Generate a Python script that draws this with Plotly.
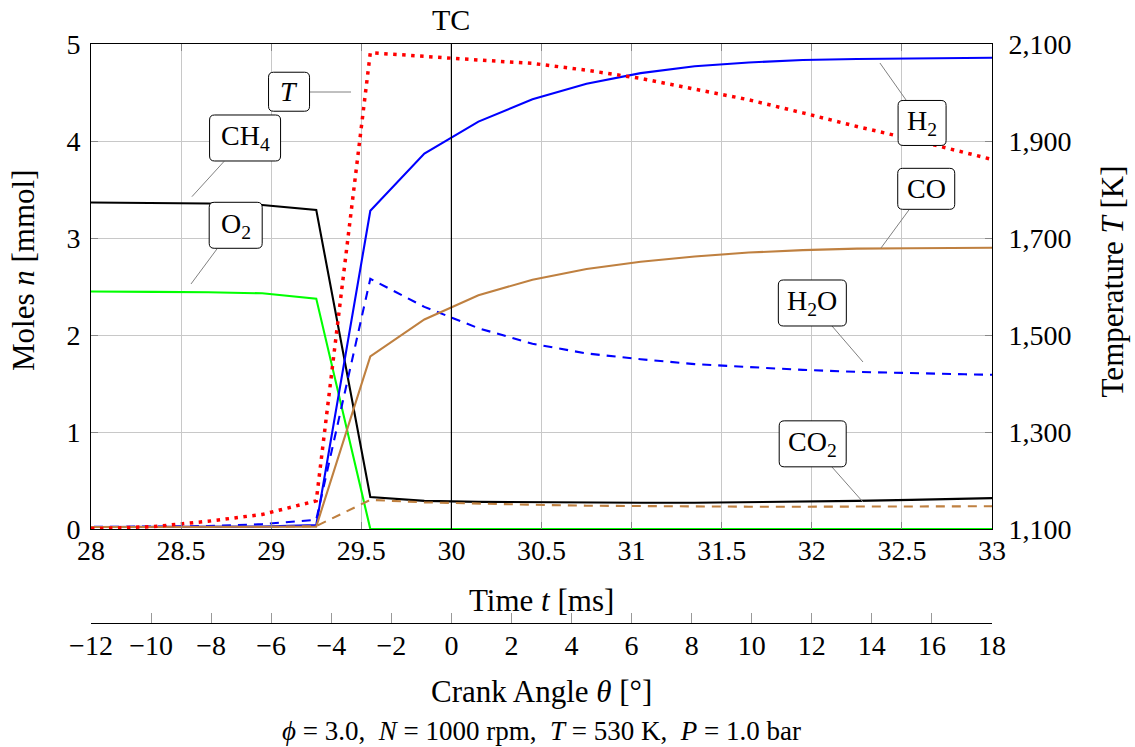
import plotly.graph_objects as go

# ---------------- data ----------------
TIME_MS = [27.75, 28.05, 28.35, 28.65, 28.95, 29.25, 29.55, 29.85, 30.15, 30.45,
           30.75, 31.05, 31.35, 31.65, 31.95, 32.25, 32.55, 32.85, 33.15]
CH4 = [3.37, 3.365, 3.36, 3.355, 3.34, 3.29, 0.33, 0.29, 0.28, 0.275,
       0.27, 0.27, 0.27, 0.275, 0.28, 0.29, 0.30, 0.315, 0.325]
O2 = [2.45, 2.45, 2.445, 2.44, 2.43, 2.375, 0.0, 0.0, 0.0, 0.0,
      0.0, 0.0, 0.0, 0.0, 0.0, 0.0, 0.0, 0.0, 0.0]
H2 = [0.02, 0.02, 0.02, 0.02, 0.025, 0.04, 3.28, 3.87, 4.20, 4.43,
      4.59, 4.70, 4.77, 4.81, 4.835, 4.845, 4.85, 4.855, 4.86]
H2O = [0.02, 0.02, 0.025, 0.03, 0.05, 0.095, 2.58, 2.29, 2.07, 1.91,
       1.81, 1.75, 1.70, 1.67, 1.64, 1.62, 1.605, 1.595, 1.585]
CO = [0.02, 0.02, 0.02, 0.02, 0.02, 0.025, 1.78, 2.16, 2.41, 2.57,
      2.68, 2.755, 2.81, 2.85, 2.875, 2.89, 2.895, 2.90, 2.90]
CO2 = [0.02, 0.02, 0.02, 0.02, 0.02, 0.03, 0.30, 0.275, 0.26, 0.25,
       0.24, 0.235, 0.23, 0.23, 0.23, 0.23, 0.23, 0.235, 0.235]
TEMP_K = [1100, 1101, 1105, 1116, 1130, 1158, 2082, 2074, 2067, 2060,
          2046, 2029, 2007, 1985, 1958, 1930, 1904, 1876, 1848]

TIME_TICKS = [28, 28.5, 29, 29.5, 30, 30.5, 31, 31.5, 32, 32.5, 33]
MOLE_TICKS = [0, 1, 2, 3, 4, 5]
TEMP_TICKS = [1100, 1300, 1500, 1700, 1900, 2100]
CRANK_TICKS = [-12, -10, -8, -6, -4, -2, 0, 2, 4, 6, 8, 10, 12, 14, 16, 18]
TC_TIME = 30

# label boxes: text, box centre (t, n), box size px, connector from (t,n) to (t,n)
LABELS = [
    ("<i>T</i>", 29.099, 4.508, 41, 39, (29.215, 4.505), (29.443, 4.505)),
    ("CH<sub>4</sub>", 28.855, 4.031, 71, 46, (28.738, 3.789), (28.560, 3.426)),
    ("O<sub>2</sub>", 28.803, 3.131, 53, 46, (28.699, 2.887), (28.555, 2.526)),
    ("H<sub>2</sub>", 32.612, 4.186, 48, 45, (32.523, 4.423), (32.378, 4.804)),
    ("CO", 32.635, 3.507, 57, 41, (32.539, 3.289), (32.384, 2.897)),
    ("H<sub>2</sub>O", 32.003, 2.330, 68, 46, (32.112, 2.093), (32.284, 1.722)),
    ("CO<sub>2</sub>", 32.005, 0.878, 67, 46, (32.112, 0.639), (32.284, 0.278)),
]

FONT = "Liberation Serif, Times New Roman, serif"
FS = 28
TITLE_FS = 31
BROWN = "#bf8040"

fig = go.Figure()

def add_line(y, color, dash=None, width=2.1, yaxis="y"):
    fig.add_trace(go.Scatter(
        x=TIME_MS, y=y, mode="lines", yaxis=yaxis, showlegend=False,
        hoverinfo="skip",
        line=dict(color=color, width=width, dash=dash)))

add_line(CH4, "black")
add_line(O2, "#00ff00")
add_line(H2, "#0000ff")
add_line(H2O, "#0000ff", dash="9px,7px")
add_line(CO, BROWN)
add_line(CO2, BROWN, dash="9px,7px")
add_line(TEMP_K, "#ff0000", dash="3.5px,5.5px", width=3.5, yaxis="y2")

# invisible trace that carries the crank-angle axis
fig.add_trace(go.Scatter(x=CRANK_TICKS, y=[0] * len(CRANK_TICKS), xaxis="x2",
                         yaxis="y", mode="markers", opacity=0,
                         showlegend=False, hoverinfo="skip"))

# TC line
fig.add_shape(type="line", xref="x", yref="y", x0=TC_TIME, x1=TC_TIME,
              y0=0, y1=5, line=dict(color="black", width=1.2), layer="above")

annotations = []


def rrect_path(w, h, r):
    a, b = w / 2, h / 2
    return (f"M {-a + r},{-b} L {a - r},{-b} Q {a},{-b} {a},{-b + r} "
            f"L {a},{b - r} Q {a},{b} {a - r},{b} L {-a + r},{b} "
            f"Q {-a},{b} {-a},{b - r} L {-a},{-b + r} Q {-a},{-b} {-a + r},{-b} Z")


for text, cx, cy, w, h, p0, p1 in LABELS:
    fig.add_shape(type="line", xref="x", yref="y", x0=p0[0], y0=p0[1],
                  x1=p1[0], y1=p1[1], line=dict(color="#808080", width=1),
                  layer="above")
    fig.add_shape(type="path", xref="x", yref="y", xsizemode="pixel",
                  ysizemode="pixel", xanchor=cx, yanchor=cy,
                  path=rrect_path(w, h, 5), fillcolor="white",
                  line=dict(color="black", width=1), layer="above")
    annotations.append(dict(text=text, x=cx, y=cy, xref="x", yref="y",
                            showarrow=False, xanchor="center", yanchor="middle",
                            font=dict(family=FONT, size=FS, color="black")))

annotations += [
    dict(text="TC", x=TC_TIME, y=1.0415, xref="x", yref="paper", showarrow=False,
         xanchor="center", yanchor="middle",
         font=dict(family=FONT, size=30, color="black")),
    dict(text="Time <i>t</i> [ms]", x=0.5, y=0.0397, xref="paper", yref="paper",
         showarrow=False, xanchor="center", yanchor="middle",
         font=dict(family=FONT, size=TITLE_FS, color="black")),
    dict(text="Crank Angle <i>θ</i> [°]", x=0.5, y=-0.119, xref="paper",
         yref="paper", showarrow=False, xanchor="center", yanchor="middle",
         font=dict(family=FONT, size=TITLE_FS, color="black")),
    dict(text="<i>ϕ</i> = 3.0,  <i>N</i> = 1000 rpm,  <i>T</i> = 530 K,  <i>P</i> = 1.0 bar",
         x=0.5, y=-0.1865, xref="paper", yref="paper", showarrow=False,
         xanchor="center", yanchor="middle",
         font=dict(family=FONT, size=27, color="black")),
    dict(text="Moles <i>n</i> [mmol]", x=-0.0744, y=0.6097, xref="paper",
         yref="paper", showarrow=False, textangle=-90, xanchor="center",
         yanchor="middle", font=dict(family=FONT, size=TITLE_FS, color="black")),
    dict(text="Temperature <i>T</i> [K]", x=1.1332, y=0.59, xref="paper",
         yref="paper", showarrow=False, textangle=-90, xanchor="center",
         yanchor="middle", font=dict(family=FONT, size=TITLE_FS, color="black")),
]

tickfont = dict(family=FONT, size=FS, color="black")
ydom0 = (623 - 529) / 579

fig.update_layout(
    width=1135, height=747,
    margin=dict(l=91, r=143, t=44, b=124),
    paper_bgcolor="white", plot_bgcolor="white",
    font=dict(family=FONT, color="black"),
    showlegend=False,
    annotations=annotations,
    xaxis=dict(range=[28, 33], tickvals=TIME_TICKS, showgrid=True,
               gridcolor="#c8c8c8", gridwidth=1, zeroline=False,
               showline=True, linecolor="black", linewidth=1, mirror="ticks",
               ticks="inside", ticklen=7, tickcolor="#888", tickfont=tickfont,
               ticklabelstandoff=-4, anchor="y"),
    xaxis2=dict(range=[-12, 18], tickvals=CRANK_TICKS, overlaying="x",
                anchor="free", position=0, side="bottom", showgrid=False,
                zeroline=False, showline=True, linecolor="black", linewidth=1,
                ticks="inside", ticklen=10, tickcolor="#999", tickfont=tickfont,
                ticklabelstandoff=-3),
    yaxis=dict(range=[0, 5], tickvals=MOLE_TICKS, domain=[ydom0, 1],
               showgrid=True, gridcolor="#c8c8c8", zeroline=False,
               showline=True, linecolor="black", linewidth=1, mirror=True,
               ticks="inside", ticklen=7, tickcolor="#888", tickfont=tickfont,
               ticklabelstandoff=4),
    yaxis2=dict(range=[1100, 2100], tickvals=TEMP_TICKS, overlaying="y",
                side="right", anchor="x", showgrid=False, zeroline=False,
                showline=True, linecolor="black", linewidth=1,
                ticks="inside", ticklen=7, tickcolor="#888",
                tickformat=",d", tickfont=tickfont, ticklabelstandoff=10),
)

fig.write_html("out.html")
